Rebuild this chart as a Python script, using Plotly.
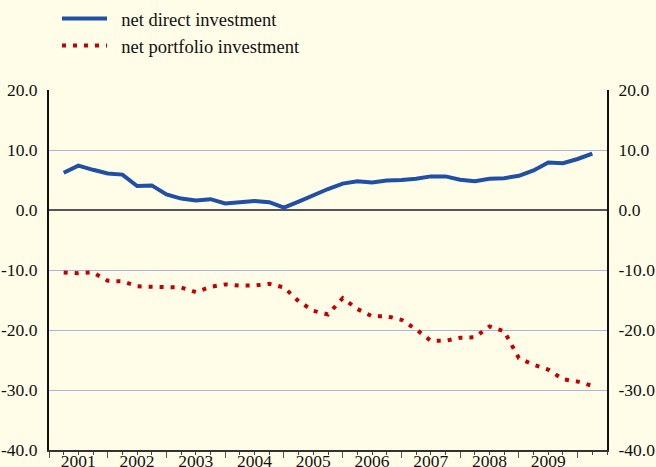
import plotly.graph_objects as go

# Quarterly observations, 2001Q1 .. 2010Q1 (percent)
quarters = [f"{y}Q{q}" for y in range(2001, 2011) for q in range(1, 5)][:37]
net_direct = [6.2, 7.4, 6.7, 6.1, 5.9, 4.0, 4.1, 2.6, 1.9, 1.6,
              1.8, 1.1, 1.3, 1.5, 1.3, 0.4, 1.4, 2.5, 3.5, 4.4,
              4.8, 4.6, 4.9, 5.0, 5.2, 5.6, 5.6, 5.05, 4.8, 5.2,
              5.3, 5.7, 6.6, 7.9, 7.8, 8.5, 9.4]
net_portfolio = [-10.4, -10.55, -10.4, -11.8, -11.9, -12.7, -12.8, -12.9, -12.9, -13.7,
                 -12.8, -12.4, -12.6, -12.6, -12.3, -12.9, -15.2, -16.8, -17.4, -14.7,
                 -16.5, -17.7, -17.7, -18.3, -19.9, -21.8, -21.8, -21.3, -21.2, -19.4,
                 -20.2, -24.7, -25.8, -26.6, -28.2, -28.6, -29.3]

years = [str(y) for y in range(2001, 2010)]
y_ticks = [20, 10, 0, -10, -20, -30, -40]
y_labels = ["20.0", "10.0", "0.0", "-10.0", "-20.0", "-30.0", "-40.0"]

# quarter position on the axis: end of each quarter, counted from 2001Q1 start
xpos = [i + 1 for i in range(len(quarters))]
year_mid = [4 * k + 2 for k in range(len(years))]
year_edges = [4 * k for k in range(len(years) + 1)]

BG = "#fffde8"
FONT = "Liberation Serif, Times New Roman, serif"
PAD = "\u00a0\u00a0"

fig = go.Figure()
fig.add_trace(go.Scatter(
    x=xpos, y=net_direct, mode="lines", name=PAD + "net direct investment",
    line=dict(color="#1f4fa6", width=4),
))
fig.add_trace(go.Scatter(
    x=xpos, y=net_portfolio, mode="lines", name=PAD + "net portfolio investment",
    line=dict(color="#c40000", width=4, dash="4px,7px"),
))
# carrier trace for the secondary axes (year labels, right-hand scale)
fig.add_trace(go.Scatter(
    x=xpos, y=net_portfolio, xaxis="x2", yaxis="y2", mode="lines",
    opacity=0, showlegend=False, hoverinfo="skip",
))

xr = [0, 38]
yr = [-40, 20]
fig.update_layout(
    width=656, height=467,
    margin=dict(l=49, r=49, t=90, b=17, autoexpand=False),
    paper_bgcolor=BG, plot_bgcolor=BG,
    font=dict(family=FONT, size=17.5, color="#111"),
    showlegend=True,
    legend=dict(
        x=(57 - 49) / 558, xanchor="left",
        y=1 + (90 + 0) / 360, yanchor="top",
        bgcolor="rgba(0,0,0,0)", font=dict(size=18.5),
        itemwidth=45, tracegroupgap=0,
    ),
    xaxis=dict(
        range=xr, showgrid=False, zeroline=False, automargin=False,
        showline=True, linecolor="#333", linewidth=2,
        tickvals=year_edges, ticks="outside", ticklen=6, tickwidth=1,
        tickcolor="#555", showticklabels=False,
        minor=dict(dtick=1, tick0=0, ticks="outside", ticklen=3,
                   tickwidth=1, tickcolor="#444"),
    ),
    xaxis2=dict(
        range=xr, overlaying="x", side="bottom", anchor="y", automargin=False,
        showgrid=False, zeroline=False, showline=False,
        tickvals=year_mid, ticktext=years, ticks="",
        tickfont=dict(size=17.5), ticklabelstandoff=-2,
    ),
    yaxis=dict(
        range=yr, tickvals=y_ticks, ticktext=y_labels, ticks="", automargin=False,
        showgrid=True, gridcolor="#aeb2e2", gridwidth=1,
        zeroline=True, zerolinecolor="#555", zerolinewidth=2,
        showline=True, linecolor="#111", linewidth=2, ticklabelstandoff=6,
    ),
    yaxis2=dict(
        range=yr, overlaying="y", side="right", anchor="x", automargin=False,
        tickvals=y_ticks, ticktext=y_labels, ticks="",
        showgrid=False, zeroline=False, ticklabelstandoff=6,
        showline=True, linecolor="#111", linewidth=2,
    ),
)

fig.write_html("out.html")
